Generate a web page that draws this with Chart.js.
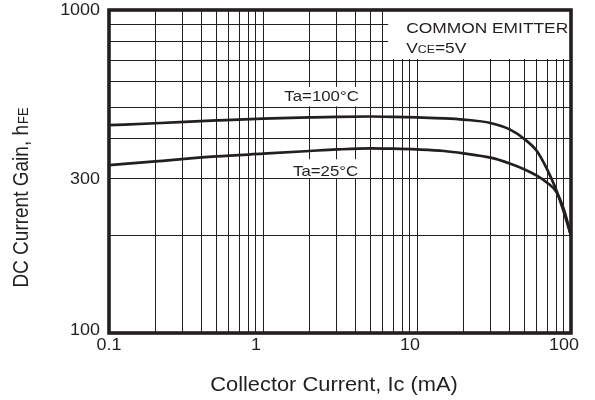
<!DOCTYPE html>
<html>
<head>
<meta charset="utf-8">
<script src="https://cdn.jsdelivr.net/npm/chart.js@4/dist/chart.umd.min.js"></script>
<style>
  html, body { margin: 0; padding: 0; background: #ffffff; }
  #wrap { width: 595px; height: 400px; position: relative; }
</style>
</head>
<body>
<div id="wrap"><canvas id="c" width="595" height="400"></canvas></div>
<script>
// Collector current (mA) sample points
const currents = [0.1, 0.2, 0.5, 1, 2, 3, 5, 7, 10, 15, 20, 30, 40, 50, 60, 70, 80, 90, 100];
// DC current gain hFE at Ta = 100°C
const gainHot = [440, 446, 455, 461, 465, 467, 468, 467, 465, 462, 458, 447, 427, 398, 366, 321, 278, 236, 200];
// DC current gain hFE at Ta = 25°C
const gainRoom = [331, 340, 352, 359, 366, 370, 373, 372, 370, 366, 360, 349, 335, 321, 307, 292, 274, 241, 200];

// grid line positions (1-2-3-...-9 per decade)
const xGridValues = [0.1, 0.2, 0.3, 0.4, 0.5, 0.6, 0.7, 0.8, 0.9,
                     1, 2, 3, 4, 5, 6, 7, 8, 9,
                     10, 20, 30, 40, 50, 60, 70, 80, 90, 100];
const yGridValues = [100, 200, 300, 400, 500, 600, 700, 800, 900, 1000];

const xTickLabels = ['0.1', '1', '10', '100'];
const xTickValues = [0.1, 1, 10, 100];
const yTickLabels = ['1000', '300', '100'];
const yTickValues = [1000, 300, 100];

const INK = '#231f20';
const SX = 1.12; // horizontal glyph stretch of the printed lettering
const FONT = '"Liberation Sans", Arial, sans-serif';

function stretchedText(ctx, s, x, y, font, align, baseline) {
  ctx.save();
  ctx.font = font;
  ctx.textAlign = align || 'left';
  ctx.textBaseline = baseline || 'alphabetic';
  ctx.translate(x, y);
  ctx.scale(SX, 1);
  ctx.fillText(s, 0, 0);
  ctx.restore();
}

function textWidth(ctx, s, font) {
  ctx.save();
  ctx.font = font;
  const w = ctx.measureText(s).width * SX;
  ctx.restore();
  return w;
}

function whiteBox(ctx, xs, ys, x0, x1, yTop, yBottom) {
  const l = xs.getPixelForValue(x0), r = xs.getPixelForValue(x1);
  const t = ys.getPixelForValue(yTop), b = ys.getPixelForValue(yBottom);
  ctx.fillRect(l, t, r - l, b - t);
}

const decor = {
  id: 'decor',
  beforeDatasetsDraw(chart) {
    const ctx = chart.ctx;
    const xs = chart.scales.x, ys = chart.scales.y;
    ctx.save();
    ctx.fillStyle = '#ffffff';
    // legend box in the upper right corner
    whiteBox(ctx, xs, ys, 6.5, 100, 990, 705);
    // backgrounds behind curve captions
    whiteBox(ctx, xs, ys, 1.29, 4.4, 578, 503);
    whiteBox(ctx, xs, ys, 1.45, 4.4, 345, 302);
    ctx.restore();
  },
  afterDraw(chart) {
    const ctx = chart.ctx;
    const xs = chart.scales.x, ys = chart.scales.y;
    const a = chart.chartArea;
    ctx.save();
    // heavy frame
    ctx.strokeStyle = INK;
    ctx.lineWidth = 3.6;
    ctx.strokeRect(a.left, a.top, a.right - a.left, a.bottom - a.top);

    ctx.fillStyle = INK;
    const tickFont = '16px ' + FONT;
    yTickValues.forEach((v, i) => {
      const y = ys.getPixelForValue(v) + (i === yTickValues.length - 1 ? -2 : 1);
      stretchedText(ctx, yTickLabels[i], a.left - 9, y, tickFont, 'right', 'middle');
    });
    xTickValues.forEach((v, i) => {
      const x = xs.getPixelForValue(v) - (i === 0 ? 0 : 7);
      stretchedText(ctx, xTickLabels[i], x, a.bottom + 17, tickFont, 'center', 'alphabetic');
    });

    // x axis title
    stretchedText(ctx, 'Collector Current, Ic (mA)', (a.left + a.right) / 2 - 6, 391, '19.5px ' + FONT, 'center');

    // y axis title with subscript FE
    const big = '19px ' + FONT, small = '13px ' + FONT;
    ctx.save();
    ctx.font = big;
    const w1 = ctx.measureText('DC Current Gain, h').width;
    ctx.font = small;
    const w2 = ctx.measureText('FE').width;
    ctx.translate(28, 198);
    ctx.scale(SX, 1);
    ctx.rotate(-Math.PI / 2);
    const start = -(w1 + w2) / 2;
    ctx.textBaseline = 'alphabetic';
    ctx.font = big;
    ctx.fillText('DC Current Gain, h', start, 0);
    ctx.font = small;
    ctx.fillText('FE', start + w1 + 1, 0);
    ctx.restore();

    // legend box text
    const lf = '15.5px ' + FONT, ls = '11px ' + FONT;
    const lx = xs.getPixelForValue(6.5) + 18;
    stretchedText(ctx, 'COMMON EMITTER', lx, 33, lf);
    let cx = lx;
    stretchedText(ctx, 'V', cx, 53, lf); cx += textWidth(ctx, 'V', lf);
    stretchedText(ctx, 'CE', cx, 53, ls); cx += textWidth(ctx, 'CE', ls);
    stretchedText(ctx, '=5V', cx, 53, lf);

    // curve captions
    const cf = '15px ' + FONT;
    stretchedText(ctx, 'Ta=100°C', xs.getPixelForValue(2.4), ys.getPixelForValue(522), cf, 'center');
    stretchedText(ctx, 'Ta=25°C', xs.getPixelForValue(2.55), ys.getPixelForValue(307), cf, 'center');
    ctx.restore();
  }
};

const gridStyle = { color: INK, lineWidth: 1, drawTicks: false };

new Chart(document.getElementById('c'), {
  type: 'line',
  data: {
    datasets: [
      { label: 'Ta=100°C', data: currents.map((x, i) => ({ x, y: gainHot[i] })) },
      { label: 'Ta=25°C', data: currents.map((x, i) => ({ x, y: gainRoom[i] })) }
    ]
  },
  options: {
    responsive: false,
    animation: false,
    devicePixelRatio: 1,
    layout: { padding: { left: 109, right: 24, top: 10, bottom: 67 } },
    elements: {
      line: { borderColor: INK, borderWidth: 2.7, cubicInterpolationMode: 'monotone', fill: false },
      point: { radius: 0, hoverRadius: 0 }
    },
    plugins: { legend: { display: false }, tooltip: { enabled: false } },
    scales: {
      x: {
        type: 'logarithmic', min: 0.1, max: 100,
        grid: gridStyle, border: { display: false },
        ticks: { display: false },
        afterBuildTicks: s => { s.ticks = xGridValues.map(v => ({ value: v })); }
      },
      y: {
        type: 'logarithmic', min: 100, max: 1000,
        grid: gridStyle, border: { display: false },
        ticks: { display: false },
        afterBuildTicks: s => { s.ticks = yGridValues.map(v => ({ value: v })); }
      }
    }
  },
  plugins: [decor]
});
</script>
</body>
</html>
